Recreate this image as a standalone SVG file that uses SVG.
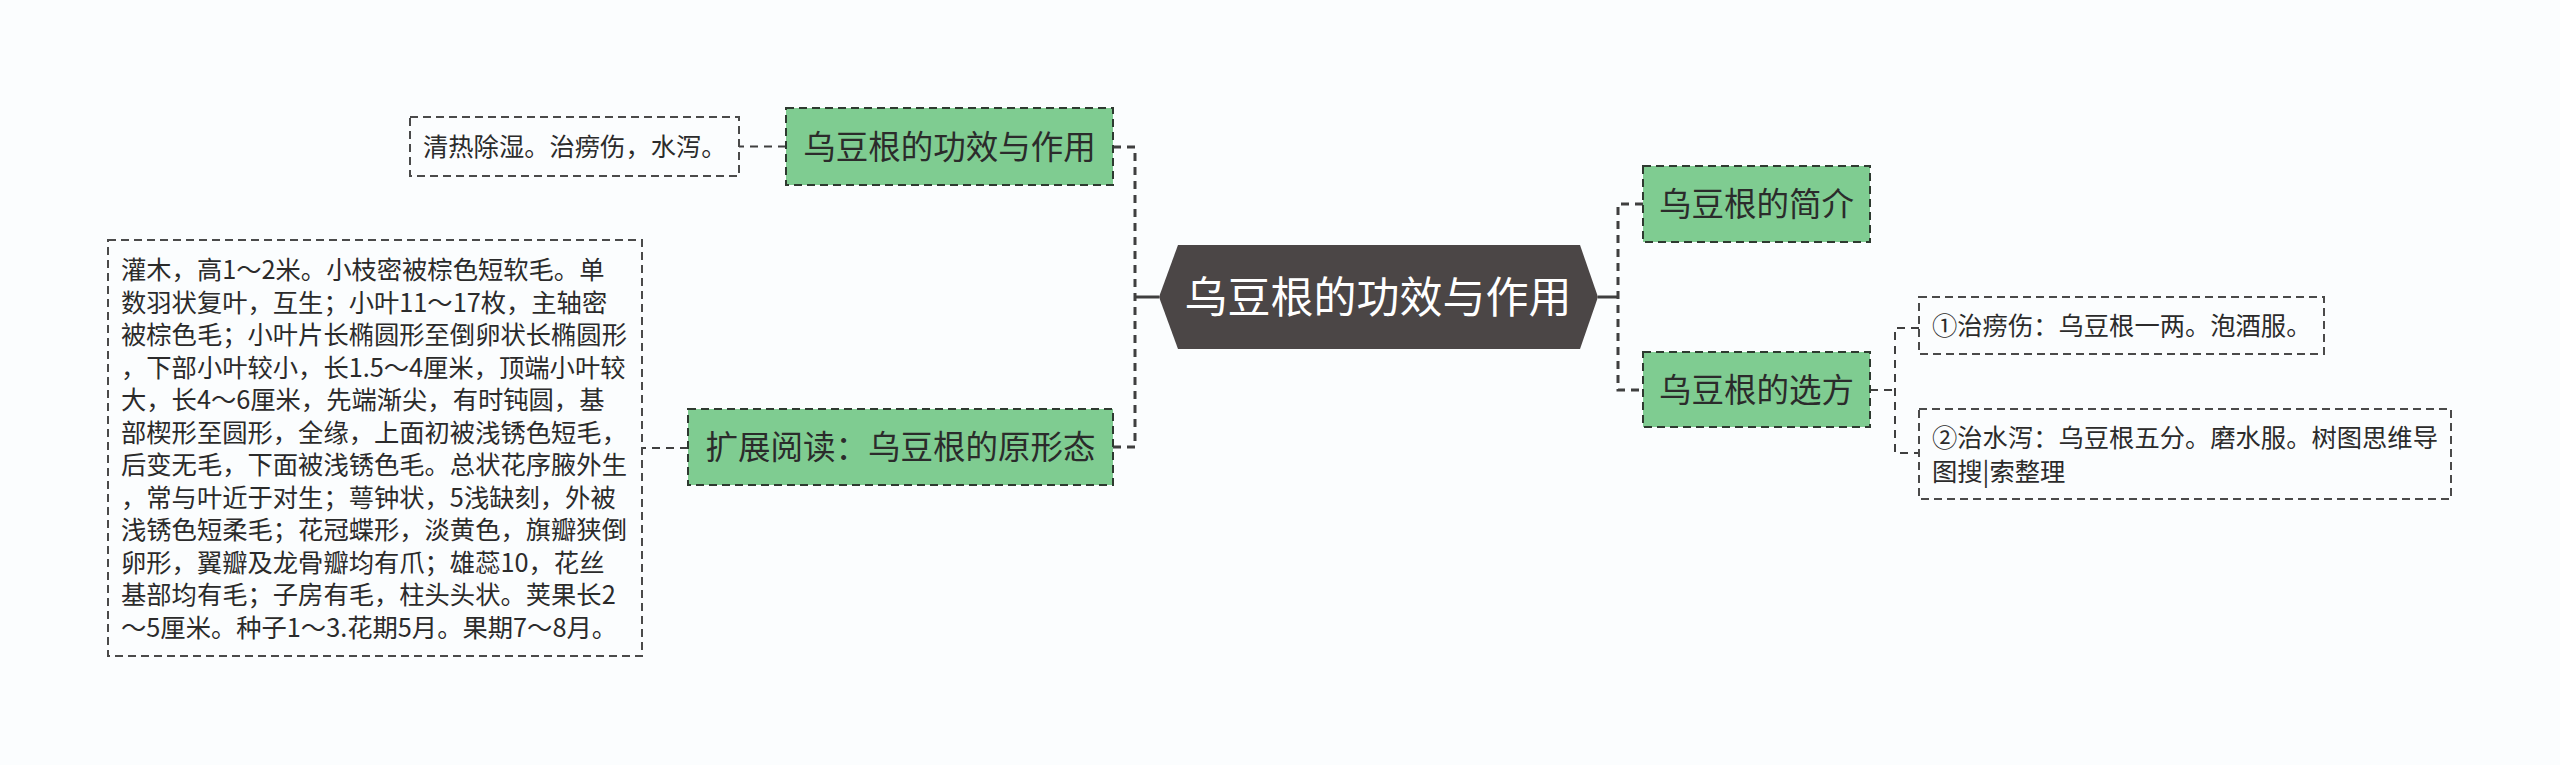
<svg xmlns="http://www.w3.org/2000/svg" width="2560" height="765" viewBox="0 0 2560 765">
<style>
.bg{fill:#FBFDFE}
.green{fill:#7FCC91;stroke:#2E3A30;stroke-width:2;stroke-dasharray:8 5}
.leaf{fill:#FBFDFE;stroke:#4A4A4A;stroke-width:2;stroke-dasharray:8 5}
.hex{fill:#4B4646}
.t{font-family:"Noto Sans CJK SC","Noto Sans",sans-serif;fill:#2B2B2B}
.tl{font-size:25.3px}
.tg{font-size:32.5px}
.tc{font-size:43px;fill:#FFFFFF}
.trunk{fill:none;stroke:#3F3F3F;stroke-width:3;stroke-dasharray:8 6}
.solid{fill:none;stroke:#3F3F3F;stroke-width:3}
.branch{fill:none;stroke:#3F3F3F;stroke-width:2;stroke-dasharray:8 6}
</style>
<rect class="bg" x="0" y="0" width="2560" height="765"/>
<g id="connectors">
<path class="solid" d="M1159,297 H1135"/>
<path class="trunk" d="M1113,147 H1135 V447 H1113"/>
<path class="solid" d="M1598,297 H1618"/>
<path class="trunk" d="M1643,204 H1618 V390 H1643"/>
<path class="branch" d="M786,146.5 H739"/>
<path class="branch" d="M688,448 H642"/>
<path class="branch" d="M1870,390 H1895"/>
<path class="branch" d="M1919,328 H1895 V453 H1919"/>
</g>
<g id="root">
<polygon class="hex" points="1159,297 1178,245 1580,245 1598,297 1580,349 1178,349"/>
<text class="t tc" x="1378" y="313" text-anchor="middle">乌豆根的功效与作用</text>
</g>
<g id="n-effect">
<rect class="green" x="786" y="108" width="327" height="77"/>
<text class="t tg" x="949.5" y="158.5" text-anchor="middle">乌豆根的功效与作用</text>
</g>
<g id="leaf-effect">
<rect class="leaf" x="410" y="117" width="329" height="59"/>
<text class="t tl" x="423" y="156">清热除湿。治痨伤，水泻。</text>
</g>
<g id="n-morph">
<rect class="green" x="688" y="409" width="425" height="76"/>
<text class="t tg" x="900.5" y="459" text-anchor="middle">扩展阅读：乌豆根的原形态</text>
</g>
<g id="leaf-morph">
<rect class="leaf" x="108" y="240" width="534" height="416"/>
<text class="t tl">
<tspan x="121" y="279">灌木，高1～2米。小枝密被棕色短软毛。单</tspan>
<tspan x="121" y="311.5">数羽状复叶，互生；小叶11～17枚，主轴密</tspan>
<tspan x="121" y="344">被棕色毛；小叶片长椭圆形至倒卵状长椭圆形</tspan>
<tspan x="121" y="376.5">，下部小叶较小，长1.5～4厘米，顶端小叶较</tspan>
<tspan x="121" y="409">大，长4～6厘米，先端渐尖，有时钝圆，基</tspan>
<tspan x="121" y="441.5">部楔形至圆形，全缘，上面初被浅锈色短毛，</tspan>
<tspan x="121" y="474">后变无毛，下面被浅锈色毛。总状花序腋外生</tspan>
<tspan x="121" y="506.5">，常与叶近于对生；萼钟状，5浅缺刻，外被</tspan>
<tspan x="121" y="539">浅锈色短柔毛；花冠蝶形，淡黄色，旗瓣狭倒</tspan>
<tspan x="121" y="571.5">卵形，翼瓣及龙骨瓣均有爪；雄蕊10，花丝</tspan>
<tspan x="121" y="604">基部均有毛；子房有毛，柱头头状。荚果长2</tspan>
<tspan x="121" y="636.5">～5厘米。种子1～3.花期5月。果期7～8月。</tspan>
</text>
</g>
<g id="n-intro">
<rect class="green" x="1643" y="166" width="227" height="76"/>
<text class="t tg" x="1756.5" y="216" text-anchor="middle">乌豆根的简介</text>
</g>
<g id="n-recipe">
<rect class="green" x="1643" y="352" width="227" height="75"/>
<text class="t tg" x="1756.5" y="402" text-anchor="middle">乌豆根的选方</text>
</g>
<g id="leaf-recipe1">
<rect class="leaf" x="1919" y="297" width="405" height="57"/>
<text class="t tl" x="1932" y="335">①治痨伤：乌豆根一两。泡酒服。</text>
</g>
<g id="leaf-recipe2">
<rect class="leaf" x="1919" y="409" width="532" height="90"/>
<text class="t tl">
<tspan x="1932" y="446.5">②治水泻：乌豆根五分。磨水服。树图思维导</tspan>
<tspan x="1932" y="480.5">图搜|索整理</tspan>
</text>
</g>
</svg>
